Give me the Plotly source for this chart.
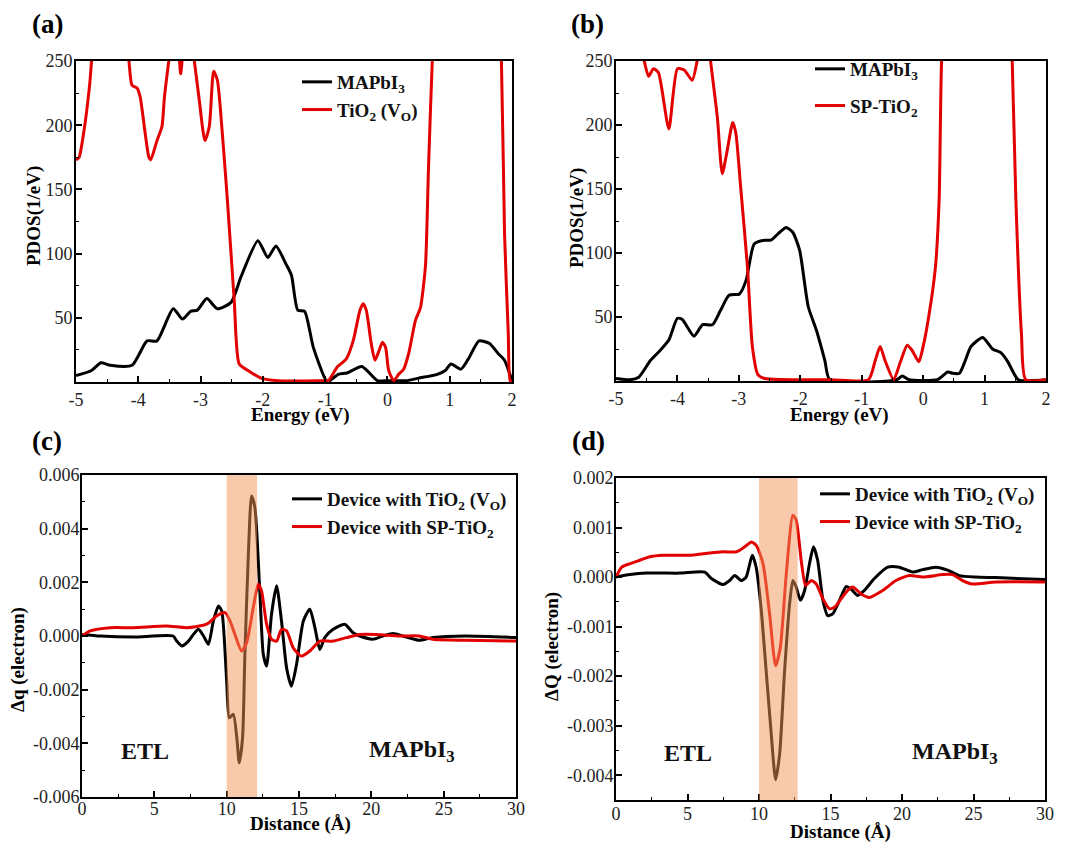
import plotly.graph_objects as go

# The page body adds an 8 px margin, so the figure is sized to leave room for it
OFF = 8
W, H = 1069 - OFF, 842 - OFF
SERIF = "Liberation Serif, Times New Roman, serif"
RED = "#e30000"
BLACK = "#000000"

# ---------------- Panel (a): PDOS, MAPbI3 / TiO2 (VO) ----------------
a_mapbi3_E = [-5, -4.75, -4.6, -4.45, -4.1, -3.86, -3.7, -3.44, -3.29, -3.16, -3.05, -2.9, -2.73,
              -2.51, -2.35, -2.08, -1.92, -1.79, -1.63, -1.54, -1.44, -1.33, -1.19, -0.98, -0.93,
              -0.79, -0.65, -0.41, -0.16, 0.0, 0.3, 0.5, 0.8, 0.93, 1.02, 1.18, 1.3, 1.47, 1.64,
              1.78, 1.88, 2.0]
a_mapbi3_D = [5, 9, 15, 13, 13, 32, 32, 57, 49, 55, 56, 65, 57, 62, 82, 110, 97, 106, 92, 83, 56,
              55, 27, 1, 1, 6, 7, 12, 1, 1, 1, 3, 6, 9, 14, 10, 18, 32, 30, 22, 17, 1]
a_tio2_E = [-5, -4.95, -4.88, -4.78, -4.75, -4.6, -4.3, -4.15, -4.1, -4.02, -3.97, -3.83, -3.8,
            -3.7, -3.62, -3.58, -3.51, -3.44, -3.36, -3.32, -3.27, -3.18, -3.1, -3.02, -2.93,
            -2.86, -2.79, -2.73, -2.65, -2.57, -2.46, -2.38, -2.24, -2.03, -1.76, -1.0, -0.95,
            -0.8, -0.66, -0.55, -0.44, -0.39, -0.34, -0.26, -0.2, -0.13, -0.08, -0.03, 0.02, 0.1,
            0.18, 0.26, 0.34, 0.45, 0.53, 0.61, 0.66, 0.72, 0.8, 1.3, 1.75, 1.83, 1.88, 1.94,
            1.97, 2.0]
a_tio2_D = [173, 175, 193, 232, 250, 330, 330, 250, 231, 229, 222, 175, 173, 188, 199, 222, 250,
            275, 262, 240, 262, 275, 250, 219, 188, 199, 242, 235, 193, 142, 64, 14, 9, 3, 1, 1,
            1, 12, 18, 32, 56, 61, 56, 30, 17, 25, 31, 27, 9, 1, 6, 10, 22, 48, 58, 90, 168, 250,
            330, 400, 330, 250, 116, 38, 1, 1]

# ---------------- Panel (b): PDOS, MAPbI3 / SP-TiO2 ----------------
b_mapbi3_E = [-5, -4.77, -4.63, -4.44, -4.28, -4.14, -4.0, -3.92, -3.73, -3.59, -3.43, -3.3, -3.16,
              -2.99, -2.88, -2.75, -2.58, -2.48, -2.34, -2.23, -2.12, -2.01, -1.87, -1.74, -1.6,
              -1.52, -0.43, -0.34, -0.23, 0.23, 0.4, 0.48, 0.59, 0.67, 0.78, 0.97, 1.13, 1.27,
              1.38, 1.55, 2.0]
b_mapbi3_D = [2, 1, 3, 16, 24, 32, 49, 48, 35, 44, 44, 55, 67, 68, 79, 107, 110, 110, 116, 120,
              116, 102, 58, 40, 16, 1, 1, 4, 1, 1, 7, 6, 6, 14, 27, 34, 25, 22, 15, 1, 1]
b_sptio2_E = [-5, -4.7, -4.54, -4.47, -4.39, -4.31, -4.14, -4.0, -3.89, -3.76, -3.68, -3.6, -3.5,
              -3.46, -3.35, -3.27, -3.19, -3.1, -3.05, -2.97, -2.86, -2.78, -2.69, -2.58, -1.5,
              -0.89, -0.78, -0.7, -0.62, -0.48, -0.37, -0.26, -0.18, -0.07, 0.0, 0.09, 0.2, 0.26,
              0.3, 0.4, 1.0, 1.38, 1.45, 1.51, 1.6, 1.67, 2.0]
b_sptio2_D = [330, 290, 250, 238, 244, 241, 197, 244, 243, 235, 250, 280, 270, 250, 206, 162, 180,
              202, 194, 151, 89, 27, 5, 2, 1, 1, 16, 27, 16, 1, 15, 28, 24, 15, 27, 50, 89, 141,
              250, 330, 400, 330, 250, 141, 37, 1, 1]

# ---------------- Panel (c): Δq vs distance ----------------
c_x_vo = [0, 1.26, 3.56, 6.3, 6.55, 6.9, 7.36, 7.7, 8.05, 8.4, 8.74, 9.08, 9.43, 9.66, 10.0, 10.18,
          10.46, 10.7, 10.87, 11.1, 11.26, 11.5, 11.72, 11.95, 12.3, 12.53, 12.76, 13.1, 13.45,
          13.79, 14.14, 14.48, 14.83, 15.3, 15.75, 16.1, 16.44, 16.78, 17.36, 18.16, 18.74, 19.2,
          20.1, 20.8, 21.5, 22.2, 23.3, 24.25, 26.5, 30]
c_dq_vo = [0.00006, 0.0, -0.00004, 0.0, -0.00019, -0.00037, -0.00019, 0.00006, 0.00025, 0.0,
           -0.00031, 0.00056, 0.00112, 0.00093, -0.00168, -0.00305, -0.00292, -0.00379, -0.00473,
           -0.00379, -0.00068, 0.00305, 0.00522, 0.00479, 0.00155, -0.00068, -0.00112, 0.00081,
           0.00187, 0.00056, -0.00118, -0.00187, -0.00106, 0.00056, 0.001, 0.00031, -0.0005,
           -0.00006, 0.00025, 0.00044, 0.00012, 0.0, -0.00012, 0.0, 0.00009, 0.0, -0.00016,
           -0.00006, 0.0, -0.00006]
c_x_sp = [0, 0.57, 1.95, 3.56, 5.86, 7.24, 8.62, 9.31, 9.89, 10.23, 10.57, 11.03, 11.38, 11.84,
          12.18, 12.41, 12.76, 13.1, 13.45, 13.79, 14.14, 14.6, 15.17, 15.75, 16.44, 17.36, 18.28,
          19.2, 20.34, 21.95, 23.3, 24.25, 26.5, 30]
c_dq_sp = [0.0, 0.00019, 0.00031, 0.00031, 0.00037, 0.00031, 0.00044, 0.00075, 0.00087, 0.00056,
           0.00006, -0.00056, -0.00025, 0.00106, 0.00193, 0.00168, 0.00044, -0.00012, -0.00019,
           0.00025, 0.00019, -0.00044, -0.00075, -0.00056, -0.00019, -0.00019, -0.00006, 0.00006,
           0.00006, 0.0, 0.0, -0.00012, -0.00016, -0.00019]
c_band = [10.0, 12.1]

# ---------------- Panel (d): ΔQ vs distance ----------------
d_x_vo = [0, 0.98, 2.14, 4.47, 6.2, 6.67, 7.49, 7.95, 8.3, 8.77, 9.1, 9.53, 9.8, 10.14, 10.5,
          10.84, 11.16, 11.44, 11.79, 12.14, 12.37, 12.6, 12.9, 13.19, 13.53, 13.81, 14.1, 14.47,
          14.81, 15.16, 15.63, 16.1, 16.44, 16.9, 17.37, 18.07, 19.0, 19.81, 20.74, 21.44, 22.37,
          23.19, 24.0, 25.16, 26.56, 30]
d_dQ_vo = [0.0, 0.00005, 0.00008, 0.00008, 0.0001, -0.00003, -0.00015, -0.00007, 0.00003,
           -0.00007, 0.0, 0.00044, 0.0002, -0.00061, -0.00189, -0.00311, -0.00409, -0.00358,
           -0.00189, -0.00054, -0.00007, -0.0002, -0.00047, -0.00027, 0.00027, 0.00061, 0.00034,
           -0.00047, -0.00078, -0.00074, -0.00047, -0.00019, -0.00024, -0.00037, -0.00027,
           -0.00003, 0.0002, 0.0002, 0.0001, 0.00015, 0.0002, 0.00014, 0.00003, 0.0, -0.00001,
           -0.00005]
d_x_sp = [0, 0.4, 0.98, 1.67, 2.37, 3.3, 5.16, 6.09, 7.49, 8.42, 9.0, 9.47, 9.81, 10.28, 10.74,
          11.16, 11.49, 11.91, 12.37, 12.6, 12.95, 13.26, 13.65, 14.0, 14.47, 14.93, 15.28, 15.74,
          16.2, 16.56, 17.14, 17.72, 18.65, 19.58, 20.5, 21.44, 22.84, 23.53, 24.23, 24.93, 26.56,
          30]
d_dQ_sp = [0.0, 0.0002, 0.00027, 0.00034, 0.00041, 0.00044, 0.00044, 0.00047, 0.00051, 0.00051,
           0.00061, 0.00071, 0.00064, 0.00027, -0.00074, -0.00179, -0.00142, 0.00007, 0.00125,
           0.00115, 0.00034, -0.00017, -0.00007, -0.00014, -0.00044, -0.00064, -0.00061,
           -0.00044, -0.00027, -0.0002, -0.00034, -0.00041, -0.00027, -0.00007, 0.00003, 0.0,
           0.00005, 0.00005, -0.00007, -0.00014, -0.0001, -0.0001]
d_band = [10.0, 12.7]

# ---------------- tick labels ----------------
E_ticks = [-5, -4, -3, -2, -1, 0, 1, 2]
E_ticktext = ["-5", "-4", "-3", "-2", "-1", "0", "1", "2"]
PDOS_ticks = [50, 100, 150, 200, 250]
PDOS_ticktext = ["50", "100", "150", "200", "250"]
D_ticks = [0, 5, 10, 15, 20, 25, 30]
D_ticktext = ["0", "5", "10", "15", "20", "25", "30"]
c_yticks = [-0.006, -0.004, -0.002, 0.0, 0.002, 0.004, 0.006]
c_yticktext = ["-0.006", "-0.004", "-0.002", "0.000", "0.002", "0.004", "0.006"]
d_yticks = [-0.004, -0.003, -0.002, -0.001, 0.0, 0.001, 0.002]
d_yticktext = ["-0.004", "-0.003", "-0.002", "-0.001", "0.000", "0.001", "0.002"]


def px_x(x):
    return (x - OFF) / W


def px_y(y):
    return 1 - (y - OFF) / H


fig = go.Figure()

LW = 3
line_opts = dict(shape="spline", smoothing=0.6)


def add(x, y, name, color, xa, ya, leg, grp):
    fig.add_trace(go.Scatter(x=x, y=y, mode="lines", name=name,
                             line=dict(color=color, width=LW, **line_opts),
                             xaxis=xa, yaxis=ya, legend=leg, legendgroup=grp))


add(a_mapbi3_E, a_mapbi3_D, "MAPbI<sub>3</sub>", BLACK, "x", "y", "legend", "a1")
add(a_tio2_E, a_tio2_D, "TiO<sub>2</sub> (V<sub>O</sub>)", RED, "x", "y", "legend", "a2")
add(b_mapbi3_E, b_mapbi3_D, "MAPbI<sub>3</sub>", BLACK, "x2", "y2", "legend2", "b1")
add(b_sptio2_E, b_sptio2_D, "SP-TiO<sub>2</sub>", RED, "x2", "y2", "legend2", "b2")
add(c_x_vo, c_dq_vo, "Device with TiO<sub>2</sub> (V<sub>O</sub>)", BLACK, "x3", "y3", "legend3", "c1")
add(c_x_sp, c_dq_sp, "Device with SP-TiO<sub>2</sub>", RED, "x3", "y3", "legend3", "c2")
add(d_x_vo, d_dQ_vo, "Device with TiO<sub>2</sub> (V<sub>O</sub>)", BLACK, "x4", "y4", "legend4", "d1")
add(d_x_sp, d_dQ_sp, "Device with SP-TiO<sub>2</sub>", RED, "x4", "y4", "legend4", "d2")

tickfont = dict(family=SERIF, size=18, color="#222222")


def axis(domain, rng, tickvals, ticktext, minor_dtick, anchor, standoff):
    return dict(domain=domain, range=rng, tickmode="array", tickvals=tickvals, ticktext=ticktext,
                ticks="inside", ticklen=6, tickwidth=1.5, tickcolor="black",
                showline=True, linecolor="black", linewidth=2, mirror=True,
                showgrid=False, zeroline=False, tickfont=tickfont, anchor=anchor,
                automargin=False, ticklabelstandoff=standoff,
                minor=dict(dtick=minor_dtick, tick0=0, ticks="inside", ticklen=3,
                           tickwidth=1.2, tickcolor="black", showgrid=False))


# panel pixel boxes in the page: (left, right, top, bottom)
box_a = (76, 512, 61, 382)
box_b = (616, 1046, 61, 381)
box_c = (82, 516, 475, 797)
box_d = (616, 1045, 478, 800)


def xdom(b):
    return [px_x(b[0]), px_x(b[1])]


def ydom(b):
    return [px_y(b[3]), px_y(b[2])]


def legend_at(left_px, top_px, gap):
    return dict(x=px_x(left_px), y=px_y(top_px), xanchor="left", yanchor="top",
                bgcolor="rgba(0,0,0,0)", borderwidth=0, tracegroupgap=gap,
                font=dict(family=SERIF, size=19, color="#111111", weight="bold"))


fig.update_layout(
    width=W, height=H, margin=dict(l=0, r=0, t=0, b=0, pad=0, autoexpand=False),
    paper_bgcolor="white", plot_bgcolor="white", showlegend=True,
    xaxis=axis(xdom(box_a), [-5, 2], E_ticks, E_ticktext, 0.5, "y", 0),
    yaxis=axis(ydom(box_a), [0, 250], PDOS_ticks, PDOS_ticktext, 25, "x", -2),
    xaxis2=axis(xdom(box_b), [-5, 2], E_ticks, E_ticktext, 0.5, "y2", 0),
    yaxis2=axis(ydom(box_b), [0, 250], PDOS_ticks, PDOS_ticktext, 25, "x2", -2),
    xaxis3=axis(xdom(box_c), [0, 30], D_ticks, D_ticktext, 2.5, "y3", -6),
    yaxis3=axis(ydom(box_c), [-0.006, 0.006], c_yticks, c_yticktext, 0.001, "x3", -3),
    xaxis4=axis(xdom(box_d), [0, 30], D_ticks, D_ticktext, 2.5, "y4", -4),
    yaxis4=axis(ydom(box_d), [-0.0045, 0.002], d_yticks, d_yticktext, 0.0005, "x4", -3),
    legend=legend_at(297, 63, 0),
    legend2=legend_at(810, 50, 9),
    legend3=legend_at(287, 480, 0),
    legend4=legend_at(815, 475, 0),
)

# highlighted interface bands
for band, xr, yr in [(c_band, "x3", "y3 domain"), (d_band, "x4", "y4 domain")]:
    fig.add_shape(type="rect", x0=band[0], x1=band[1], y0=0, y1=1, xref=xr, yref=yr,
                  fillcolor="rgb(242,150,88)", opacity=0.5, line=dict(width=0), layer="above")

title_font = dict(family=SERIF, size=19, color="black", weight="bold")
ann = []
# panel labels
for txt, xp, yp in [("(a)", 47, 24), ("(b)", 587, 24), ("(c)", 47, 441), ("(d)", 588, 441)]:
    ann.append(dict(text=txt, x=px_x(xp), y=px_y(yp), xref="paper", yref="paper",
                    xanchor="center", yanchor="middle", showarrow=False,
                    font=dict(family=SERIF, size=27, color="black", weight="bold")))
# axis titles
for txt, xp, yp, ang in [("Energy (eV)", 300, 415, 0), ("Energy (eV)", 839, 415, 0),
                         ("Distance (Å)", 300, 824, 0), ("Distance (Å)", 840, 832, 0),
                         ("PDOS(1/eV)", 34, 216, -90), ("PDOS(1/eV)", 577, 218, -90),
                         ("Δq (electron)", 18, 660, -90), ("ΔQ (electron)", 552, 647, -90)]:
    ann.append(dict(text=txt, x=px_x(xp), y=px_y(yp), xref="paper", yref="paper",
                    xanchor="center", yanchor="middle", showarrow=False, textangle=ang,
                    font=title_font))
# region labels inside panels (c) and (d)
region_font = dict(family=SERIF, size=24, color="#111111", weight="bold")
for txt, x, y, xr, yr in [("ETL", 4.35, -0.0043, "x3", "y3"),
                          ("MAPbI<sub>3</sub>", 22.8, -0.0043, "x3", "y3"),
                          ("ETL", 5.0, -0.00356, "x4", "y4"),
                          ("MAPbI<sub>3</sub>", 23.7, -0.00356, "x4", "y4")]:
    ann.append(dict(text=txt, x=x, y=y, xref=xr, yref=yr, xanchor="center", yanchor="middle",
                    showarrow=False, font=region_font))
fig.update_layout(annotations=ann)

fig.write_html("out.html")
